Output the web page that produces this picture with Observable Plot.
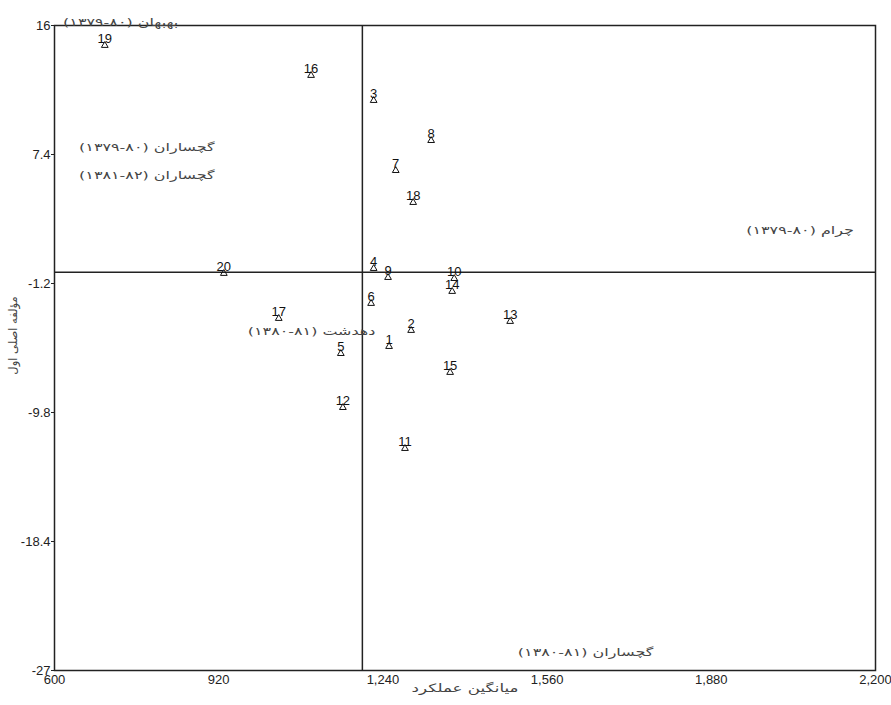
<!DOCTYPE html>
<html><head><meta charset="utf-8">
<script src="https://cdn.jsdelivr.net/npm/d3@7"></script>
<script src="https://cdn.jsdelivr.net/npm/@observablehq/plot@0.6"></script>
<style>body{margin:0;background:#fff}</style>
</head><body><div id="chart"></div>
<script>
// Genotypes (numbered) : mean yield vs first principal component (IPCA1)
const genotypes = ["1","2","3","4","5","6","7","8","9","10","11","12","13","14","15","16","17","18","19","20"];
const genoYield = [1252,1295,1222,1222,1158,1217,1265,1334,1250,1379,1283,1162,1488,1375,1371,1100,1037,1299,698,930];
const genoIPCA1 = [-5.4,-4.33,11.0,-0.2,-5.87,-2.53,6.33,8.33,-0.8,-0.87,-12.2,-9.47,-3.73,-1.73,-7.13,12.67,-3.53,4.2,14.67,-0.53];

// Environments (label positions): place name and cropping season
const envPlaces = ["بهبهان","گچساران","گچساران","چرام","دهدشت","گچساران"];
const envSeasons = ["۱۳۷۹-۸۰","۱۳۷۹-۸۰","۱۳۸۱-۸۲","۱۳۷۹-۸۰","۱۳۸۰-۸۱","۱۳۸۰-۸۱"];
const envYield = [729,780,780,2053,1101,1635];
const envIPCA1 = [16.22,7.87,6.0,2.33,-4.4,-25.8];

const xTicks = [600,920,1240,1560,1880,2200];
const yTicks = [-27,-18.4,-9.8,-1.2,7.4,16];
const meanYield = [1200];
const meanIPCA1 = [-0.45];
const xTitle = "میانگین عملکرد";
const yTitle = "مؤلفه اصلی اول";

const geno = genotypes.map((g,i)=>({g, x:genoYield[i], y:genoIPCA1[i]}));
// RLI … PDI isolates the RTL label; LRI … PDI keeps the season range in reading order
const env = envPlaces.map((p,i)=>({n:"\u2067" + p + " (\u2066" + envSeasons[i] + "\u2069)\u2069", x:envYield[i], y:envIPCA1[i]}));

const chart = Plot.plot({
  width: 891, height: 705,
  marginLeft: 54, marginRight: 16, marginTop: 25, marginBottom: 35,
  x: {domain: [600, 2200]},
  y: {domain: [-27, 16]},
  style: {fontFamily: "'Liberation Sans', Arial, sans-serif", fontSize: "12px", color: "#222", background: "#fff"},
  marks: [
    Plot.axisX({ticks: xTicks, tickFormat: d3.format(","), tickSize: 0, tickPadding: 4, label: null, fontSize: 13}),
    Plot.axisY({ticks: yTicks, tickFormat: d => String(d), tickSize: 3, tickPadding: 1, label: null, fontSize: 13}),
    Plot.ruleX(meanYield, {stroke: "#222", strokeWidth: 1.5}),
    Plot.ruleY(meanIPCA1, {stroke: "#222", strokeWidth: 1.5}),
    Plot.frame({stroke: "#222", strokeWidth: 1.5}),
    Plot.dot(geno, {x: "x", y: "y", symbol: "triangle", r: 2.5, stroke: "#111", strokeWidth: 1, fill: "none"}),
    Plot.text(geno, {x: "x", y: "y", text: "g", dy: -7, fontSize: 13, fill: "#111"}),
    Plot.text(env, {x: "x", y: "y", text: "n", fontFamily: "'DejaVu Sans', sans-serif", fontSize: 11, fill: "#444"}),
    Plot.text([xTitle], {frameAnchor: "bottom", dy: 21, fontFamily: "'DejaVu Sans', sans-serif", fontSize: 11.5, fill: "#444"}),
    Plot.text([yTitle], {frameAnchor: "left", textAnchor: "middle", dx: -41, dy: -12.5, rotate: -90, fontFamily: "'DejaVu Sans', sans-serif", fontSize: 11.5, fill: "#444"})
  ]
});
document.getElementById("chart").appendChild(chart);

// The reference renders its Persian captions wide: stretch horizontal Persian texts
chart.querySelectorAll("text").forEach(t => {
  const tr = t.getAttribute("transform") || "";
  if (/rotate\(-?90\)/.test(tr)) return;
  if (!/[\u0600-\u06FF]/.test(t.textContent)) return;
  const w = t.getComputedTextLength();
  if (!w) return;
  t.setAttribute("textLength", (w * 1.45).toFixed(1));
  t.setAttribute("lengthAdjust", "spacingAndGlyphs");
});
</script>
</body></html>
